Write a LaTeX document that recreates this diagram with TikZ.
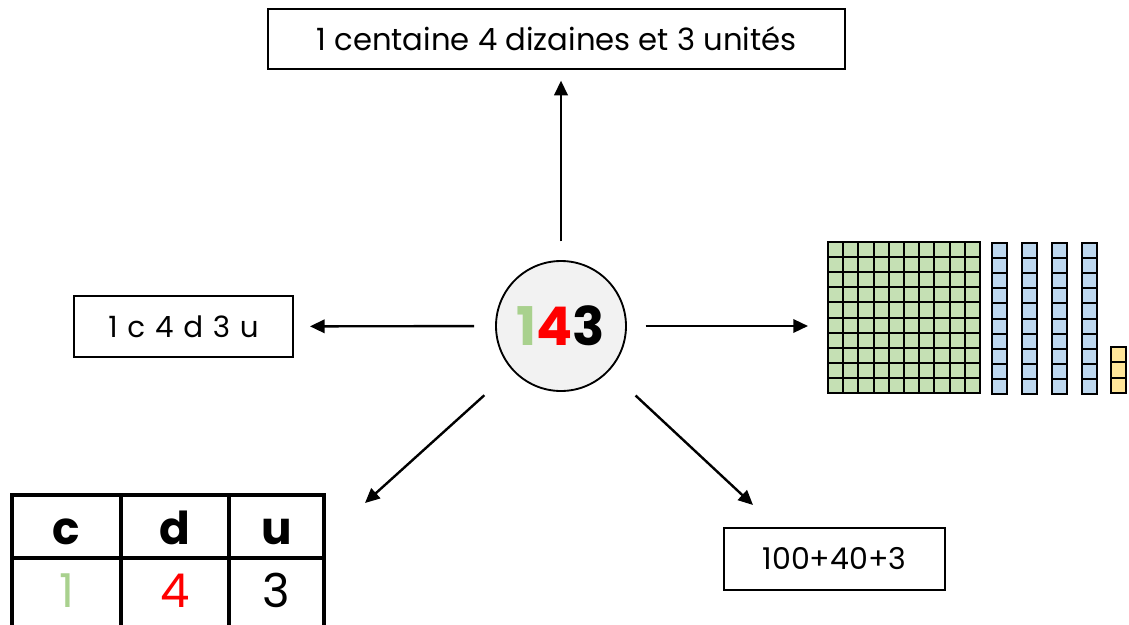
\documentclass[tikz,border=0pt]{standalone}
\usepackage{fontspec}
\setmainfont{Poppins}
\usetikzlibrary{arrows.meta,positioning}
\definecolor{vertun}{HTML}{A9D18E}
\definecolor{vertbloc}{HTML}{C5E0B4}
\definecolor{bleubloc}{HTML}{BDD7EE}
\definecolor{jaunebloc}{HTML}{FFE699}
\definecolor{grisfond}{HTML}{F2F2F2}

\begin{document}
\begin{tikzpicture}[
    x=0.75pt, y=-0.75pt,
    >={Triangle[length=11pt,width=10pt]},
    boite/.style={draw, line width=1.4pt, inner sep=0pt},
    fleche/.style={->, line width=1.8pt},
    cube/.style={draw, line width=1.5pt},
    tabtrait/.style={line width=2.3pt},
    chiffre/.style={inner sep=0pt, anchor=base}
]
    \useasboundingbox (0,0) rectangle (1129,625);

    % Le nombre au centre.
    \node[circle, draw, fill=grisfond, line width=1.4pt, minimum size=97.5pt, inner sep=0pt] (nb) at (561,326)
        {\fontsize{40}{40}\selectfont\bfseries\textcolor{vertun}{1}\textcolor{red}{4}3};

    % Les ecritures du nombre.
    \node[boite, minimum width=432.75pt, minimum height=45pt] (mots) at (556.5,39)
        {\fontsize{23}{23}\selectfont 1 centaine 4 dizaines et 3 unités};
    \node[boite, minimum width=164.25pt, minimum height=45.75pt] (abrege) at (183.5,326.5)
        {\fontsize{22}{22}\selectfont 1\,\,c\,\,4\,\,d\,\,3\,\,u};
    \node[boite, minimum width=165.75pt, minimum height=46.5pt] (somme) at (834.5,559)
        {\fontsize{22.5}{22.5}\selectfont 100+40+3};

    % Tableau c d u.
    \draw[tabtrait] (12,626) -- (12,495) -- (324,495) -- (324,626);
    \draw[tabtrait] (12,558) -- (324,558);
    \draw[tabtrait] (121,495) -- (121,626);
    \draw[tabtrait] (229,495) -- (229,626);
    \node[chiffre] (tc) at (66.5,544) {\fontsize{34}{34}\selectfont\bfseries c};
    \node[chiffre] (td) at (175,544) {\fontsize{34}{34}\selectfont\bfseries d};
    \node[chiffre] (tu) at (276.5,544) {\fontsize{34}{34}\selectfont\bfseries u};
    \node[chiffre] (vc) at (66.5,607) {\fontsize{35}{35}\selectfont\textcolor{vertun}{1}};
    \node[chiffre] (vd) at (175,607) {\fontsize{35}{35}\selectfont\textcolor{red}{4}};
    \node[chiffre] (vu) at (276.5,607) {\fontsize{35}{35}\selectfont 3};
    \coordinate (vtab) at (365,503);

    % Le materiel : 1 plaque, 4 barres, 3 cubes.
    \foreach \i in {0,...,9}
        \foreach \j in {0,...,9}
            \draw[cube, fill=vertbloc] (828+\i*15.2,242+\j*15.1) rectangle +(15.2,15.1);
    \foreach \x in {992,1022,1052,1082}
        \foreach \j in {0,...,9}
            \draw[cube, fill=bleubloc] (\x,243+\j*15.1) rectangle +(15,15.1);
    \foreach \j in {0,1,2}
        \draw[cube, fill=jaunebloc] (1111,347+\j*15.4) rectangle +(15,15.4);
    \coordinate (blocs) at (828,326);
    \coordinate (vsomme) at (753,505);

    % Les fleches.
    \draw[fleche, shorten <=14pt, shorten >=8pt] (nb) -- (nb |- mots.south);
    \draw[fleche, shorten <=15.75pt, shorten >=12pt] (nb) -- (abrege);
    \draw[fleche, shorten <=14pt, shorten >=15pt] (nb) -- (blocs);
    \draw[fleche, shorten <=28pt] (nb) -- (vtab);
    \draw[fleche, shorten <=27pt] (nb) -- (vsomme);
\end{tikzpicture}
\end{document}
